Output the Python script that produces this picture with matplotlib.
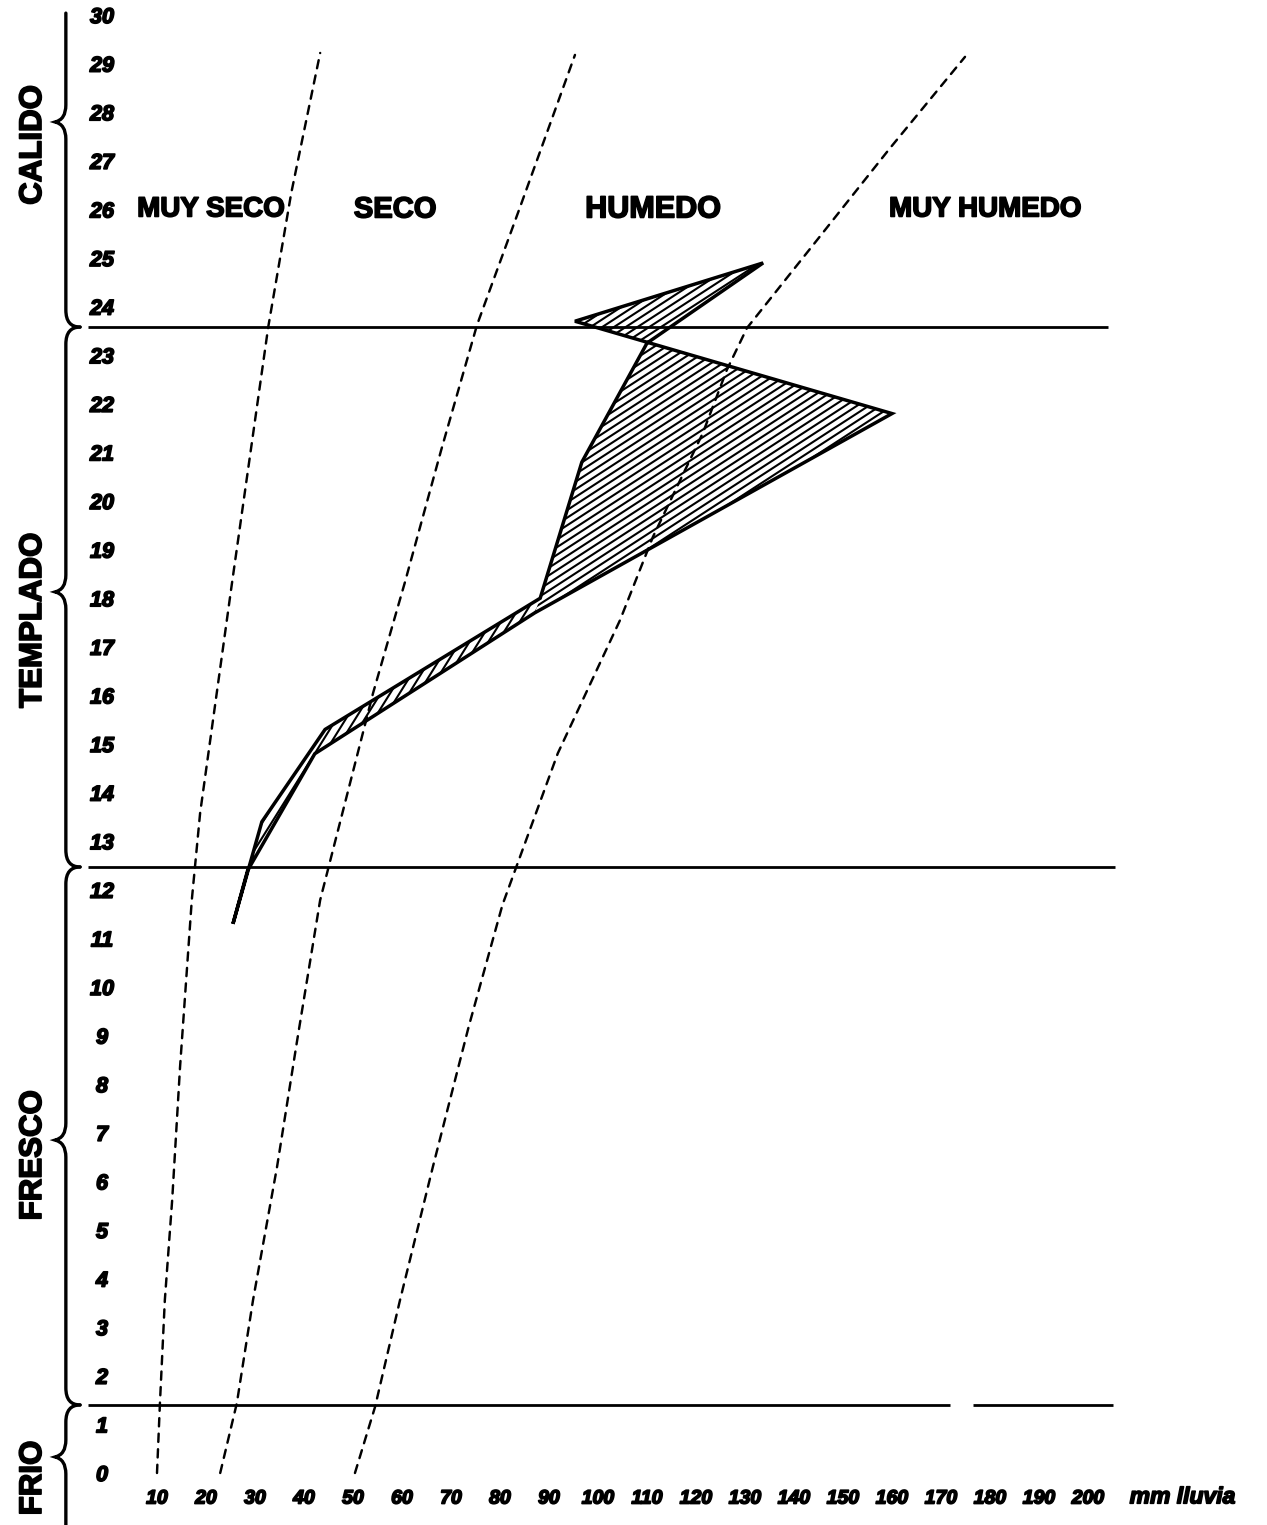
import numpy as np
import matplotlib.pyplot as plt
import matplotlib.patheffects as pe
from matplotlib.patches import Polygon, PathPatch
from matplotlib.path import Path

NARROW = ['Liberation Sans Narrow', 'DejaVu Sans Condensed', 'Liberation Sans', 'DejaVu Sans']
REG = ['Liberation Sans', 'DejaVu Sans']
GRUESO = [pe.withStroke(linewidth=1.2, foreground='black')]

# climograma: lluvia (mm) y temperatura media (C) de cada mes, ene..dic
meses = ['ENE', 'FEB', 'MAR', 'ABR', 'MAY', 'JUN', 'JUL', 'AGO', 'SEP', 'OCT', 'NOV', 'DIC']
lluvia_mes = [25.5, 31.4, 44.3, 88.2, 96.7, 110.0, 133.7, 95.3, 160.0, 87.1, 42.2, 28.5]
temp_mes = [11.3, 13.4, 15.3, 18.0, 20.8, 23.25, 24.9, 23.7, 21.8, 17.7, 14.8, 12.4]

# curvas limite entre zonas de humedad
lim1_mm = [10, 10.6, 11.6, 13.1, 14.7, 17.1, 18.8, 25.3, 32.7, 37.4, 43.3]
lim1_t = [0, 1.44, 3.56, 5.62, 8.35, 11.79, 13.58, 18.31, 23.58, 26.34, 29.22]
lim2_mm = [22.9, 26.3, 29.6, 34.5, 38.6, 43.3, 54.1, 60.6, 68.0, 75.3, 84.1, 95.3]
lim2_t = [0, 1.44, 3.56, 6.3, 8.9, 11.79, 16.05, 18.33, 21.05, 23.62, 26.05, 29.18]
lim3_mm = [50.4, 54.5, 59.6, 66.3, 73.6, 80.5, 91.8, 104.5, 111.2, 121.4, 126.3, 130.4, 144.7, 159.5, 174.9]
lim3_t = [0, 1.36, 3.56, 6.3, 9.18, 11.69, 14.81, 17.55, 19.26, 21.4, 22.7, 23.56, 25.37, 27.25, 29.14]

# limites termicos (lineas horizontales) y sus tramos en mm
lim_termicos = [23.58, 12.47, 1.4]
tramos = [[(-4, 204)], [(-4, 205.5)], [(-4, 171.8), (176.5, 205)]]

zonas_humedad = ['MUY SECO', 'SECO', 'HUMEDO', 'MUY HUMEDO']
zonas_x = [21.0, 58.6, 111.2, 179.0]
zonas_font = [NARROW, REG, REG, NARROW]
zonas_size = [20, 21, 22, 20]

zonas_temp = ['CALIDO', 'TEMPLADO', 'FRESCO', 'FRIO']
zonas_temp_y = [27.33, 17.55, 6.54, -0.1]
# llaves: (arriba, pico, abajo)
llaves = [(30.04, 27.8, 23.58), (23.58, 18.13, 12.47), (12.47, 6.85, 1.4), (1.4, 0.33, -1.07)]

xticks = list(range(10, 201, 10))
yticks = list(range(0, 31))

# escala aproximada del dibujo en pixeles por unidad
SX, SY = 4.9, 48.6

fig = plt.figure(figsize=(12.67, 15.25), dpi=100)
ax = fig.add_axes([118 / 1267, 40 / 1525, 1149 / 1267, 1485 / 1525])
ax.set_xlim(10 / SX, 1159 / SX)
ax.set_ylim(-0.247, 30.31)
ax.set_frame_on(False)

ax.set_xticks(xticks)
ax.set_xticklabels([str(v) for v in xticks])
ax.set_yticks(yticks)
ax.set_yticklabels([str(v) for v in yticks])
ax.tick_params(axis='both', length=0)
ax.tick_params(axis='x', pad=4)
ax.tick_params(axis='y', pad=11.5)
for lab in ax.get_xticklabels():
    lab.set_fontfamily(REG)
    lab.set_fontsize(14)
    lab.set_fontweight('bold')
    lab.set_fontstyle('italic')
    lab.set_path_effects(GRUESO)
for lab in ax.get_yticklabels():
    lab.set_fontfamily(REG)
    lab.set_fontsize(15.5)
    lab.set_fontweight('bold')
    lab.set_fontstyle('italic')
    lab.set_horizontalalignment('center')
    lab.set_path_effects(GRUESO)

ax.text(208.5, -0.49, 'mm lluvia', fontsize=16.5, fontweight='bold', fontstyle='italic',
        family=REG, ha='left', va='center', clip_on=False, path_effects=GRUESO)

# lineas horizontales
for t, segs in zip(lim_termicos, tramos):
    for a, b in segs:
        ax.plot([a, b], [t, t], color='black', lw=2.0, clip_on=False, solid_capstyle='butt')

# curvas limite punteadas
for xs, ts in [(lim1_mm, lim1_t), (lim2_mm, lim2_t), (lim3_mm, lim3_t)]:
    ax.plot(xs, ts, color='black', lw=1.75, linestyle=(0, (3.4, 3.0)), dash_capstyle='round')


def rayado(idx, angulo, sep, lw):
    pts = np.column_stack([[lluvia_mes[i] for i in idx], [temp_mes[i] for i in idx]])
    clip = Polygon(pts, closed=True, facecolor='none', edgecolor='none')
    ax.add_patch(clip)
    th = np.radians(angulo)
    d = np.array([np.cos(th), np.sin(th)])
    n = np.array([-np.sin(th), np.cos(th)])
    px = pts * [SX, SY]
    proj = px @ n
    along = px @ d
    for off in np.arange(proj.min() - sep, proj.max() + sep, sep):
        p0 = n * off + d * (along.min() - 20)
        p1 = n * off + d * (along.max() + 20)
        ln, = ax.plot([p0[0] / SX, p1[0] / SX], [p0[1] / SY, p1[1] / SY],
                      color='black', lw=lw, solid_capstyle='butt')
        ln.set_clip_path(clip)


# lazo superior (abr..oct) y cinta inferior (oct..abr)
rayado([3, 4, 5, 6, 7, 8, 9], 33, 6.4, 1.5)
rayado([9, 10, 11, 0, 1, 2, 3], 58, 8.0, 1.5)

contorno = Polygon(np.column_stack([lluvia_mes, temp_mes]), closed=True, fill=False,
                   edgecolor='black', lw=2.5, joinstyle='miter')
ax.add_patch(contorno)

# rotulos de humedad
for txt, x, fam, fs in zip(zonas_humedad, zonas_x, zonas_font, zonas_size):
    ax.text(x, 26.0, txt, fontsize=fs, fontweight='bold', family=fam, ha='center', va='center',
            path_effects=GRUESO)

# llaves y rotulos termicos a la izquierda
x0, xc, xe, dd = -8.6, -10.8, -5.7, 0.35
for k, (top, pk, bot) in enumerate(llaves):
    verts, codes = [], []
    if k > 0:
        verts += [(xe, top), (x0, top), (x0, top - dd)]
        codes += [Path.MOVETO, Path.CURVE3, Path.CURVE3]
    else:
        verts += [(x0, top)]
        codes += [Path.MOVETO]
    verts += [(x0, pk + dd), (x0, pk + 0.05), (xc, pk), (x0, pk - 0.05), (x0, pk - dd)]
    codes += [Path.LINETO, Path.CURVE3, Path.CURVE3, Path.CURVE3, Path.CURVE3]
    if k < len(llaves) - 1:
        verts += [(x0, bot + dd), (x0, bot), (xe, bot)]
        codes += [Path.LINETO, Path.CURVE3, Path.CURVE3]
    else:
        verts += [(x0, bot)]
        codes += [Path.LINETO]
    ax.add_patch(PathPatch(Path(verts, codes), fill=False, lw=2.4, edgecolor='black',
                           capstyle='round', clip_on=False))

for txt, y in zip(zonas_temp, zonas_temp_y):
    ax.text(-15.3, y, txt, rotation=90, fontsize=22.5, fontweight='bold', family=REG,
            ha='center', va='center', clip_on=False, path_effects=GRUESO)

fig.savefig('out.png', dpi=100, facecolor='white')
